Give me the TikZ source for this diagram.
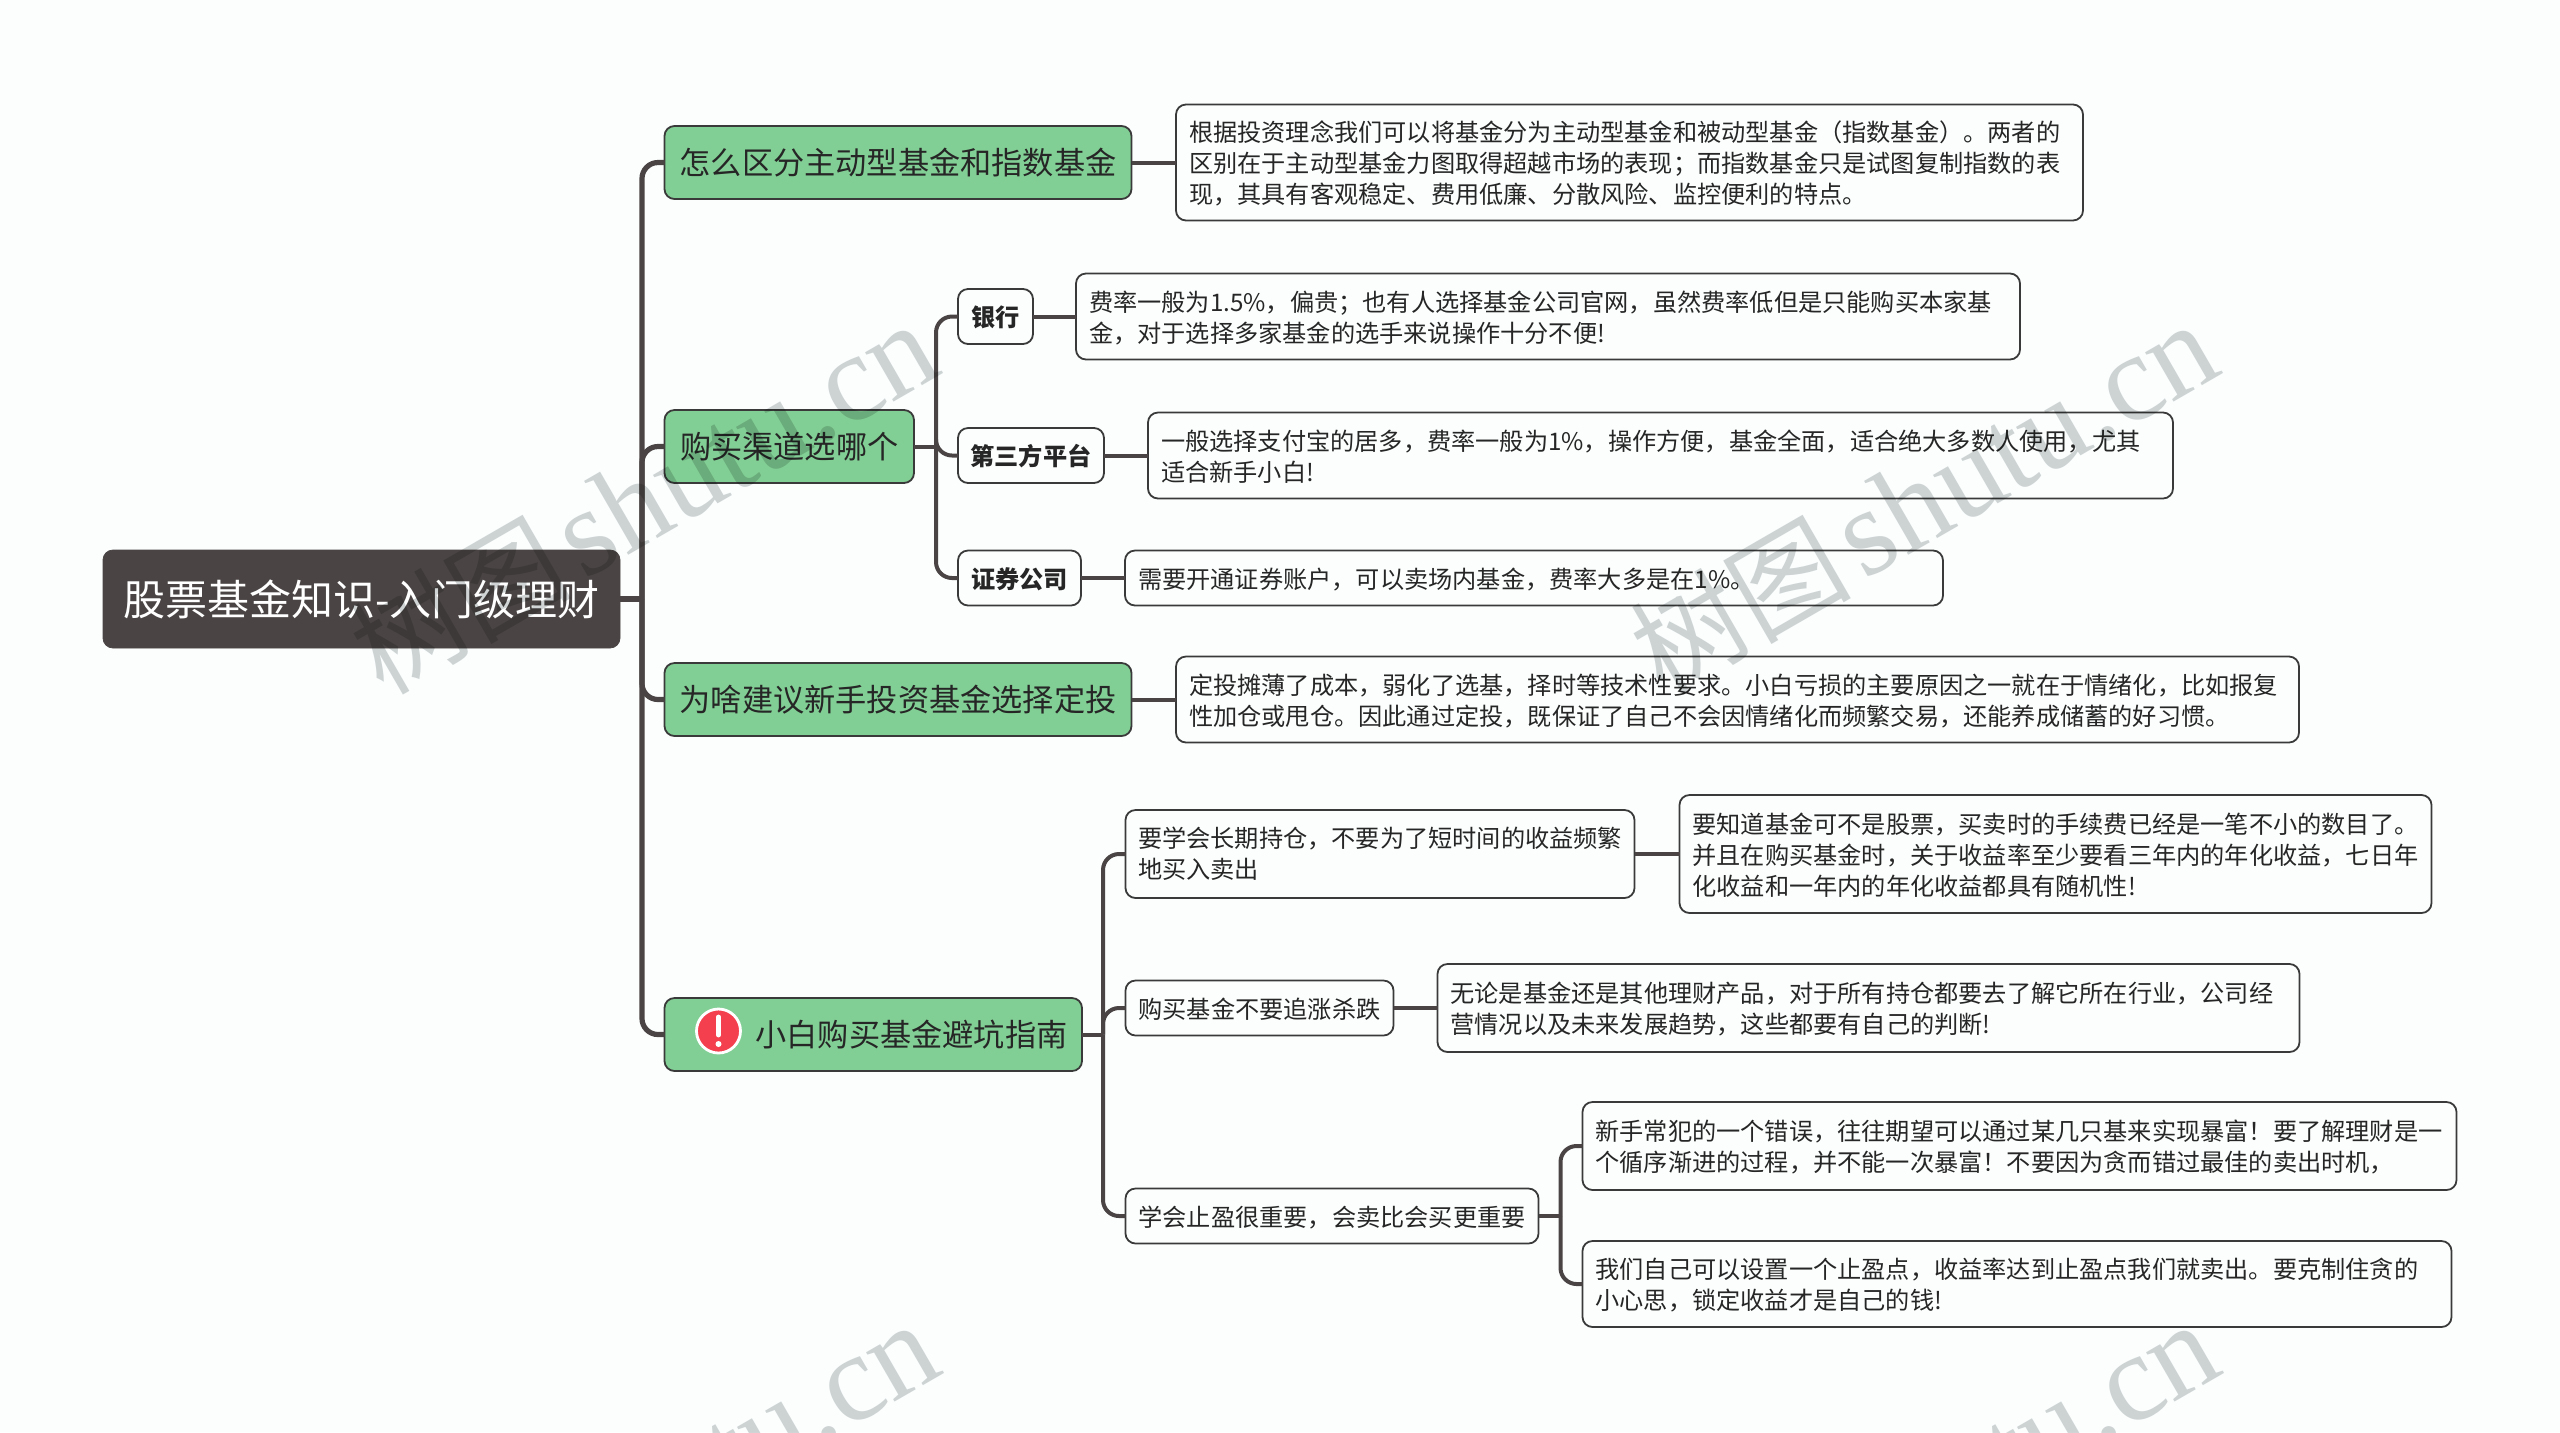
\documentclass[tikz,border=0pt]{standalone}
\usepackage{fontspec}
\setmainfont{Noto Sans CJK SC}
\newfontfamily\markfont{Liberation Serif}
\usepackage{xcolor}
\usepackage{tikz}
\usetikzlibrary{positioning,calc}
\definecolor{pagebg}{HTML}{FCFEFE}
\definecolor{inkdark}{HTML}{4A4544}
\definecolor{boxline}{HTML}{3A3A3A}
\definecolor{topicgreen}{HTML}{82CF95}
\definecolor{markgray}{HTML}{D0D4D4}
\definecolor{warnred}{HTML}{F43F4E}

\begin{document}
\begin{tikzpicture}[
    x=0.5pt, y=-0.5pt,
    root/.style={rectangle, rounded corners=5pt, fill=inkdark, draw=inkdark, text=white, outer sep=0pt, inner sep=0pt, minimum width=258.5pt, minimum height=49pt, font=\fontsize{21}{25}\selectfont},
    topic/.style={rectangle, rounded corners=5pt, fill=topicgreen, draw=boxline, line width=0.9pt, text=black!85, outer sep=0pt, inner sep=0pt, minimum height=36.5pt, font=\fontsize{15.6}{19}\selectfont},
    sub/.style={rectangle, rounded corners=5pt, fill=pagebg, draw=boxline, line width=0.9pt, text=black!85, outer sep=0pt, inner xsep=0pt, inner ysep=0pt, align=left, minimum height=27.5pt, font=\fontsize{12.1}{15.5}\selectfont, execute at begin node={\rule{0pt}{11.4pt}}},
    subhead/.style={sub, font=\fontsize{12.1}{15.5}\selectfont\bfseries},
    detail/.style={sub, inner xsep=6.5pt},
    trunk/.style={draw=inkdark, line width=2.6pt, rounded corners=8pt},
    branch/.style={draw=inkdark, line width=2pt, rounded corners=8pt},
    watermark/.style={anchor=base east, rotate=30, text=markgray, inner sep=0pt, blend mode=multiply, font=\fontsize{62}{66}\markfont}
]
\clip (0,0) rectangle (2560,1432);
\fill[pagebg] (0,0) rectangle (2560,1432);

% Root and main topics
\node[root] (root) at (361.5,599) {股票基金知识-入门级理财};
\node[topic, minimum width=233.5pt] (distinguish) at (898,162.5) {怎么区分主动型基金和指数基金};
\node[topic, minimum width=124.75pt] (channel) at (789.25,446.5) {购买渠道选哪个};
\node[topic, minimum width=233.5pt] (fixedinvest) at (898,699.5) {为啥建议新手投资基金选择定投};
\node[topic, minimum width=208.75pt] (pitfalls) at (873.25,1034.5) {\hspace*{38.25pt}小白购买基金避坑指南};

% Warning icon
\node[circle, fill=warnred, draw=white, line width=1.4pt, minimum size=22pt, inner sep=0pt] (warnicon) at (718.5,1031) {};
\draw[white, line width=2.4pt, line cap=round] ($(warnicon.center)+(0,-14)$) -- ($(warnicon.center)+(0,4)$);
\fill[white] ($(warnicon.center)+(0,13)$) circle (1.5pt);

% Detail of first topic
\node[detail, text width=440.5pt, minimum height=58pt, right=22.25pt of distinguish] (distinguishnote) {根据投资理念我们可以将基金分为主动型基金和被动型基金（指数基金）。两者的\\区别在于主动型基金力图取得超越市场的表现；而指数基金只是试图复制指数的表\\现，其具有客观稳定、费用低廉、分散风险、监控便利的特点。};

% Purchase channels
\node[subhead, minimum width=37.5pt] (bank) at (995.5,316.5) {银行};
\node[subhead, minimum width=73pt] (platform) at (1031,455.5) {第三方平台};
\node[subhead, minimum width=61.5pt] (broker) at (1019.5,578) {证券公司};
\node[detail, text width=459pt, minimum height=43pt, right=21.5pt of bank] (banknote) {费率一般为1.5\%，偏贵；也有人选择基金公司官网，虽然费率低但是只能购买本家基\\金，对于选择多家基金的选手来说操作十分不便!};
\node[detail, text width=499.5pt, minimum height=43pt, right=22pt of platform] (platformnote) {一般选择支付宝的居多，费率一般为1\%，操作方便，基金全面，适合绝大多数人使用，尤其\\适合新手小白!};
\node[detail, text width=396pt, right=22pt of broker] (brokernote) {需要开通证券账户，可以卖场内基金，费率大多是在1\%。};

% Detail of third topic
\node[detail, text width=548.5pt, minimum height=43pt, right=22.25pt of fixedinvest] (fixedinvestnote) {定投摊薄了成本，弱化了选基，择时等技术性要求。小白亏损的主要原因之一就在于情绪化，比如报复\\性加仓或甩仓。因此通过定投，既保证了自己不会因情绪化而频繁交易，还能养成储蓄的好习惯。};

% Pitfalls
\node[sub, minimum width=254.5pt, minimum height=44pt] (holdlong) at (1380,854) {要学会长期持仓，不要为了短时间的收益频繁\\地买入卖出};
\node[sub, minimum width=134pt] (nochase) at (1259.5,1008) {购买基金不要追涨杀跌};
\node[sub, minimum width=206.5pt] (takeprofit) at (1332,1216) {学会止盈很重要，会卖比会买更重要};
\node[detail, text width=363pt, minimum height=59pt, right=22.5pt of holdlong] (holdlongnote) {要知道基金可不是股票，买卖时的手续费已经是一笔不小的数目了。\\并且在购买基金时，关于收益率至少要看三年内的年化收益，七日年\\化收益和一年内的年化收益都具有随机性!};
\node[detail, text width=418pt, minimum height=44pt, right=22pt of nochase] (nochasenote) {无论是基金还是其他理财产品，对于所有持仓都要去了解它所在行业，公司经\\营情况以及未来发展趋势，这些都要有自己的判断!};
\node[detail, text width=424pt, minimum height=44pt] (greednote) at (2019.5,1146) {新手常犯的一个错误，往往期望可以通过某几只基来实现暴富！要了解理财是一\\个循序渐进的过程，并不能一次暴富！不要因为贪而错过最佳的卖出时机，};
\node[detail, text width=421.5pt, minimum height=43pt] (limitnote) at (2017,1284) {我们自己可以设置一个止盈点，收益率达到止盈点我们就卖出。要克制住贪的\\小心思，锁定收益才是自己的钱!};

% Junctions
\coordinate (rootjoin) at (642,599);
\coordinate (channeljoin) at (936,446.5);
\coordinate (pitfallsjoin) at (1103,1034.5);
\coordinate (profitjoin) at (1560.5,1216);

% Connectors from the root
\draw[trunk] (root.east) -- (rootjoin);
\draw[trunk] (rootjoin) |- (distinguish.west);
\draw[trunk] (rootjoin) |- (channel.west);
\draw[trunk] (rootjoin) |- (fixedinvest.west);
\draw[trunk] (rootjoin) |- (pitfalls.west);

% Connectors of the channels
\draw[branch] (channel.east) -- (channeljoin);
\draw[branch] (channeljoin) |- (bank.west);
\draw[branch] (channeljoin) |- (platform.west);
\draw[branch] (channeljoin) |- (broker.west);

% Connectors of the pitfalls
\draw[branch] (pitfalls.east) -- (pitfallsjoin);
\draw[branch] (pitfallsjoin) |- (holdlong.west);
\draw[branch] (pitfallsjoin) |- (nochase.west);
\draw[branch] (pitfallsjoin) |- (takeprofit.west);
\draw[branch] (takeprofit.east) -- (profitjoin);
\draw[branch] (profitjoin) |- (greednote.west);
\draw[branch] (profitjoin) |- (limitnote.west);

% Notes
\draw[branch] (distinguish) -- (distinguishnote);
\draw[branch] (bank) -- (banknote);
\draw[branch] (platform) -- (platformnote);
\draw[branch] (broker) -- (brokernote);
\draw[branch] (fixedinvest) -- (fixedinvestnote);
\draw[branch] (holdlong) -- (holdlongnote);
\draw[branch] (nochase) -- (nochasenote);

% Watermarks
\node[watermark] (markleft) at (946,372) {\normalfont\fontsize{55}{60}\selectfont 树图\hspace{6pt}\fontsize{62}{66}\markfont shutu.cn};
\node[watermark] (markright) at (2226,372) {\normalfont\fontsize{55}{60}\selectfont 树图\hspace{6pt}\fontsize{62}{66}\markfont shutu.cn};
\node[watermark] (marklowleft) at (947,1372) {shutu.cn};
\node[watermark] (marklowright) at (2227,1372) {shutu.cn};
\end{tikzpicture}
\end{document}
